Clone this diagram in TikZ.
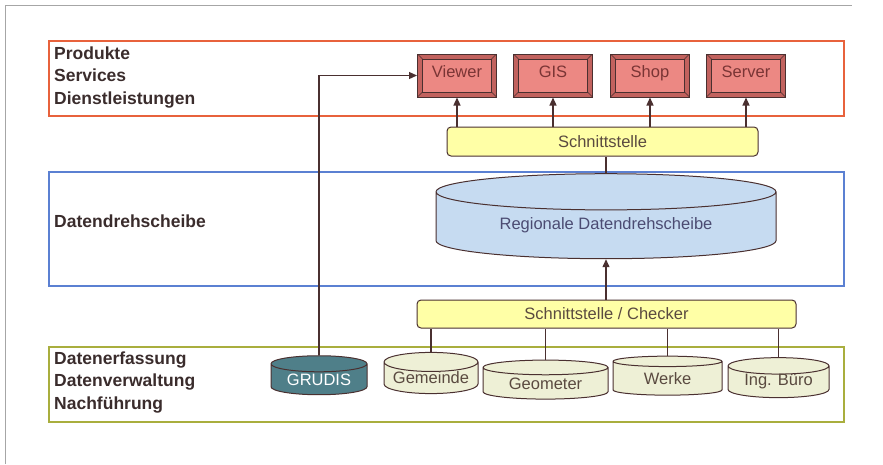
\documentclass[tikz,border=0pt]{standalone}
\usepackage{fontspec}
\setmainfont{Liberation Sans}
\usetikzlibrary{shapes.geometric, positioning, arrows.meta}

\definecolor{edgecol}{HTML}{4A3030}
\definecolor{labelcol}{HTML}{3A2C2C}
\definecolor{layerred}{HTML}{E8623C}
\definecolor{layerblue}{HTML}{5B80D2}
\definecolor{layergreen}{HTML}{A9AE3E}
\definecolor{prodshade}{HTML}{C2625E}
\definecolor{prodface}{HTML}{EC8883}
\definecolor{prodtext}{HTML}{7A3535}
\definecolor{ifacefill}{HTML}{FFFFA6}
\definecolor{hubfill}{HTML}{C6DBF1}
\definecolor{hubtext}{HTML}{4B4B72}
\definecolor{grudisfill}{HTML}{4F7F89}
\definecolor{srcfill}{HTML}{EEF0D6}
\definecolor{srctext}{HTML}{5A4A40}

\tikzset{
  layer/.style = {line width=1.3pt},
  layerlabel/.style = {anchor=west, align=left, inner sep=0pt, text=labelcol,
                       font=\fontsize{17.5}{22.5}\selectfont\bfseries},
  prodbox/.style = {draw=edgecol, line width=1pt, fill=prodshade, text=prodtext,
                    minimum width=79pt, minimum height=43pt, inner sep=0pt,
                    text height=12pt, text depth=9pt,
                    path picture={
                      \draw[edgecol, line width=.6pt, fill=prodface]
                        ([shift={(5pt,5pt)}]path picture bounding box.south west)
                        rectangle ([shift={(-5pt,-5pt)}]path picture bounding box.north east);
                      \draw[edgecol, line width=.6pt]
                        (path picture bounding box.south west) -- ++(5pt,5pt)
                        (path picture bounding box.north west) -- ++(5pt,-5pt)
                        (path picture bounding box.south east) -- ++(-5pt,5pt)
                        (path picture bounding box.north east) -- ++(-5pt,-5pt);
                    }},
  iface/.style = {draw=edgecol, line width=1pt, fill=ifacefill, rounded corners=4pt,
                  text=srctext, inner sep=0pt},
  db/.style = {cylinder, shape border rotate=90, draw=edgecol, line width=1pt,
               inner sep=0pt},
  link/.style = {draw=edgecol, line width=1.2pt},
  tolink/.style = {link, -{Triangle[length=8pt, width=7pt]}},
}

\begin{document}
\begin{tikzpicture}[x=1pt, y=-1pt, font=\fontsize{16.5}{20}\selectfont]
  \useasboundingbox (0,0) rectangle (883,464);
  \draw[gray!70, line width=1pt] (5,464) -- (5,5) -- (852,5);

  % Ebenen
  \draw[layer, layerred] (49,41) rectangle (844,116);
  \draw[layer, layerblue] (49,172) rectangle (844,286);
  \draw[layer, layergreen] (49,347) rectangle (844,422);

  \node[layerlabel] (prodlabel) at (54,77.5) {Produkte\\Services\\Dienstleistungen};
  \node[layerlabel] (hublabel) at (54,221) {Datendrehscheibe};
  \node[layerlabel] (datalabel) at (54,382.5) {Datenerfassung\\Datenverwaltung\\Nachführung};

  % Produkte
  \node[prodbox] (viewer) at (457,75.5) {Viewer};
  \node[prodbox] (gis) at (553,75.5) {GIS};
  \node[prodbox] (shop) at (650,75.5) {Shop};
  \node[prodbox] (server) at (746,75.5) {Server};

  \node[iface, minimum width=311pt, minimum height=29pt] (schnitt) at (602.5,141.5) {Schnittstelle};

  \node[db, fill=hubfill, text=hubtext, minimum width=340pt, minimum height=85pt,
        aspect=0.17] (hub) at (606,225.5) {Regionale Datendrehscheibe};

  \node[iface, minimum width=379pt, minimum height=28pt] (checker) at (606.5,314) {Schnittstelle / Checker};

  % Quellen
  \node[db, fill=grudisfill, text=white, minimum width=96pt, minimum height=39pt,
        aspect=0.25] (grudis) at (319,379.5) {GRUDIS};
  \node[db, fill=srcfill, text=srctext, minimum width=94pt, minimum height=40pt,
        aspect=0.25] (gemeinde) at (431,378) {Gemeinde};
  \node[db, fill=srcfill, text=srctext, minimum width=125pt, minimum height=39pt,
        aspect=0.2] (geometer) at (545.5,383.5) {Geometer};
  \node[db, fill=srcfill, text=srctext, minimum width=109pt, minimum height=39pt,
        aspect=0.22] (werke) at (667.5,378.5) {Werke};
  \node[db, fill=srcfill, text=srctext, minimum width=101pt, minimum height=40pt,
        aspect=0.24] (buero) at (778.5,382) {Ing. Büro};

  \foreach \p in {viewer, gis, shop, server}
    \draw[tolink] (\p.south |- schnitt.north) -- (\p.south);
  \draw[link] (hub.north) -- (hub.north |- schnitt.south);
  \draw[tolink] (hub.south |- checker.north) -- (hub.south);
  \foreach \q in {gemeinde, geometer, werke, buero}
    \draw[link] (\q.north) -- (\q.north |- checker.south);
  \draw[tolink] (grudis.north) |- (viewer.west);
\end{tikzpicture}
\end{document}
